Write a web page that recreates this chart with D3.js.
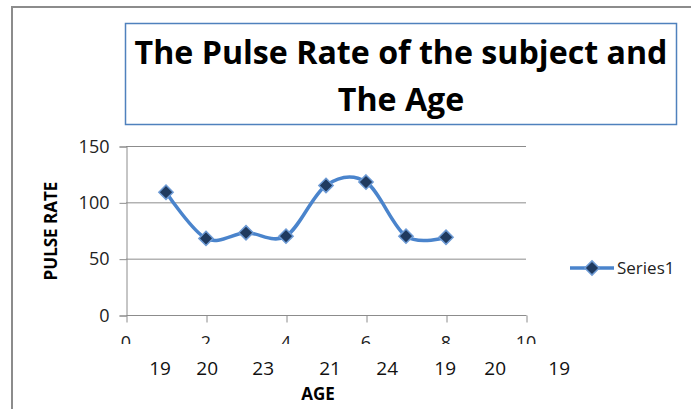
<!DOCTYPE html>
<html>
<head>
<meta charset="utf-8">
<script src="https://cdn.jsdelivr.net/npm/d3@7"></script>
<style>
  body { margin: 0; background: #fff; }
  text { font-family: "Open Sans", "Noto Sans", sans-serif; fill: #000; }
</style>
</head>
<body>
<div id="chart"></div>
<script>
// values
const xValues = [1, 2, 3, 4, 5, 6, 7, 8];
const pulseRate = [109, 68, 73, 70, 115, 118, 70, 69];
const xTicks = [0, 2, 4, 6, 8, 10];
const yTicks = [0, 50, 100, 150];
const ageLabels = [19, 20, 23, 21, 24, 19, 20, 19];
// where the typed age labels sit, in x-axis units
const ageLabelPos = [0.85, 2.03, 3.43, 5.1, 6.53, 7.98, 9.23, 10.83];
const titleLines = ["The Pulse Rate of the subject and", "The Age"];

const W = 691, H = 409;
const svg = d3.select("#chart").append("svg")
  .attr("width", W).attr("height", H);

// chart area frame (only top and left edges show)
svg.append("line").attr("x1", 12).attr("y1", 7).attr("x2", W).attr("y2", 7)
  .attr("stroke", "#8c8c8c").attr("stroke-width", 2);
svg.append("line").attr("x1", 12).attr("y1", 6).attr("x2", 12).attr("y2", H)
  .attr("stroke", "#8c8c8c").attr("stroke-width", 2);

// title box
svg.append("rect").attr("x", 125.5).attr("y", 23.5).attr("width", 551).attr("height", 101)
  .attr("fill", "none").attr("stroke", "#4f81bd").attr("stroke-width", 1.5);
const title = svg.append("g");
titleLines.forEach((t, i) => {
  title.append("text")
    .attr("x", 0).attr("y", 64 + i * 47)
    .attr("text-anchor", "middle")
    .style("font-size", "33px").style("font-weight", "bold")
    .text(t);
});
// Calibri is narrower: squeeze the first line to the width of the original
const t0 = title.select("text").node();
const sx = 533 / t0.getComputedTextLength();
title.attr("transform", `translate(401,0) scale(${sx},1)`);

const x = d3.scaleLinear().domain([0, 10]).range([126, 526]);
const y = d3.scaleLinear().domain([0, 150]).range([315, 146]);

// gridlines
svg.append("g").selectAll("line")
  .data(yTicks.filter(d => d > 0)).enter().append("line")
  .attr("x1", x(0)).attr("x2", x(10))
  .attr("y1", d => y(d) + 0.5).attr("y2", d => y(d) + 0.5)
  .attr("stroke", "#8c8c8c").attr("stroke-width", 1);

// y axis
const yAxis = svg.append("g")
  .attr("transform", `translate(${x(0) + 0.5},0.5)`)
  .call(d3.axisLeft(y).tickValues(yTicks).tickSize(7).tickPadding(10));
yAxis.selectAll("path, line").attr("stroke", "#8c8c8c");
yAxis.selectAll("text").style("font-size", "18px").style("fill", "#222")
  .style("font-family", "'Open Sans', sans-serif");

// x axis; its labels are cut off at the bottom as in the original
const xAxis = svg.append("g")
  .attr("transform", `translate(0.5,${y(0) + 0.5})`)
  .call(d3.axisBottom(x).tickValues(xTicks).tickSize(7));
xAxis.selectAll("path, line").attr("stroke", "#8c8c8c");
xAxis.select(".domain").attr("d", `M${x(0)},0H${x(10)}`);
xAxis.selectAll(".tick text").remove();
svg.append("clipPath").attr("id", "xclip")
  .append("rect").attr("x", 0).attr("y", 330).attr("width", W).attr("height", 14);
svg.append("g").attr("clip-path", "url(#xclip)")
  .selectAll("text").data(xTicks).enter().append("text")
  .attr("x", d => x(d)).attr("y", 349)
  .attr("text-anchor", "middle")
  .style("font-size", "18px").style("fill", "#222")
  .text(d => d);

// typed age labels
svg.append("g").selectAll("text")
  .data(ageLabels).enter().append("text")
  .attr("x", (d, i) => x(ageLabelPos[i])).attr("y", 375)
  .attr("text-anchor", "middle")
  .style("font-size", "19px").style("fill", "#111")
  .text(d => d);

// axis titles
svg.append("text")
  .attr("x", 318).attr("y", 400).attr("text-anchor", "middle")
  .style("font-size", "17px").style("font-weight", "bold")
  .text("AGE");
svg.append("text")
  .attr("transform", "translate(57,231) rotate(-90)").attr("text-anchor", "middle")
  .style("font-size", "17px").style("font-weight", "bold")
  .text("PULSE RATE");

// series
const pts = xValues.map((d, i) => [d, pulseRate[i]]);
const line = d3.line().x(d => x(d[0])).y(d => y(d[1])).curve(d3.curveCatmullRom.alpha(0));
svg.append("path").datum(pts)
  .attr("d", line)
  .attr("fill", "none").attr("stroke", "#4a84cc").attr("stroke-width", 3.5)
  .attr("stroke-linejoin", "round");
const diamond = d3.symbol().type(d3.symbolDiamond2).size(130);
svg.append("g").selectAll("path")
  .data(pts).enter().append("path")
  .attr("transform", d => `translate(${x(d[0])},${y(d[1])})`)
  .attr("d", diamond)
  .attr("fill", "#1f3a5f").attr("stroke", "#6d9ad4").attr("stroke-width", 1.5);

// legend
const lg = svg.append("g").attr("transform", "translate(570,268)");
lg.append("line").attr("x1", 0).attr("x2", 44).attr("y1", 0).attr("y2", 0)
  .attr("stroke", "#4a84cc").attr("stroke-width", 3.5);
lg.append("path").attr("transform", "translate(22,0)").attr("d", diamond)
  .attr("fill", "#1f3a5f").attr("stroke", "#6d9ad4").attr("stroke-width", 1.5);
lg.append("text").attr("x", 47).attr("y", 6)
  .style("font-size", "17px").style("fill", "#222")
  .text("Series1");
</script>
</body>
</html>
